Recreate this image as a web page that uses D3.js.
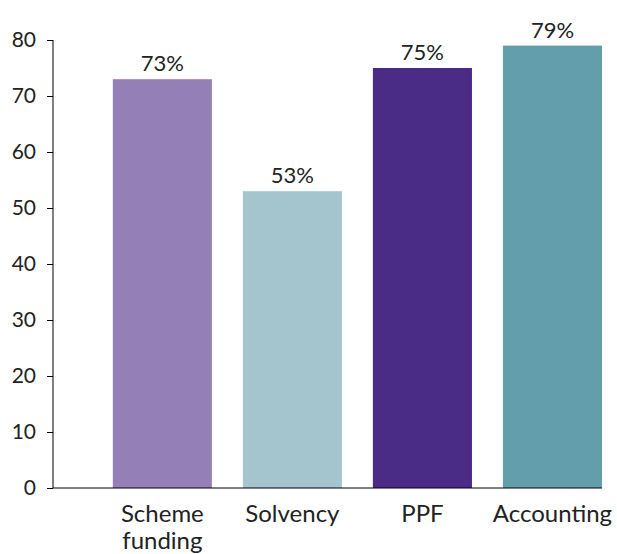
<!DOCTYPE html>
<html>
<head>
<meta charset="utf-8">
<script src="https://cdn.jsdelivr.net/npm/d3@7"></script>
<style>
  body { margin: 0; background: #fff; }
  text { font-family: Lato, "Noto Sans", sans-serif; fill: #222; }
</style>
</head>
<body>
<div id="chart"></div>
<script>
const categories = [['Scheme', 'funding'], ['Solvency'], ['PPF'], ['Accounting']]
const values = [73, 53, 75, 79]
const colors = ['#9480b6', '#a4c5cd', '#4a2c86', '#639eac']
const yTicks = [0, 10, 20, 30, 40, 50, 60, 70, 80]

const w = 617, h = 554
const padLeft = 53, padRight = 602, padTop = 40, padBottom = 488

const svg = d3.select('#chart').append('svg')
    .attr('width', w)
    .attr('height', h)

const x = d3.scaleBand()
    .domain(d3.range(values.length))
    .range([padLeft, padRight])
    .paddingInner(0.238)
    .paddingOuter(0.23)
    .align(1)

const y = d3.scaleLinear()
    .domain([0, 80])
    .range([padBottom, padTop])

svg.selectAll('rect')
    .data(values)
    .enter()
    .append('rect')
    .attr('x', (d, i) => x(i))
    .attr('y', d => y(d))
    .attr('width', x.bandwidth())
    .attr('height', d => y(0) - y(d))
    .attr('fill', (d, i) => colors[i])

svg.selectAll('.val')
    .data(values)
    .enter()
    .append('text')
    .attr('class', 'val')
    .attr('x', (d, i) => x(i) + x.bandwidth() / 2)
    .attr('y', d => y(d) - 8)
    .attr('text-anchor', 'middle')
    .style('font-size', '22px')
    .text(d => d + '%')

const yAxis = svg.append('g')
    .attr('transform', 'translate(' + padLeft + ',0)')
    .call(d3.axisLeft(y).tickValues(yTicks).tickSize(6).tickPadding(11))
yAxis.select('.domain').attr('stroke', '#000').attr('d', 'M0,' + padTop + 'V' + padBottom)
yAxis.selectAll('.tick line').attr('stroke', '#000')
yAxis.selectAll('text').style('font-size', '21px').attr('fill', '#222')

svg.append('line')
    .attr('x1', padLeft).attr('x2', padRight)
    .attr('y1', padBottom).attr('y2', padBottom)
    .attr('stroke', '#000')

const catText = svg.selectAll('.cat')
    .data(categories)
    .enter()
    .append('text')
    .attr('class', 'cat')
    .attr('x', (d, i) => x(i) + x.bandwidth() / 2)
    .attr('y', 522)
    .attr('text-anchor', 'middle')
    .style('font-size', '24px')

catText.selectAll('tspan')
    .data(d => d)
    .enter()
    .append('tspan')
    .attr('x', function () { return d3.select(this.parentNode).attr('x') })
    .attr('dy', (d, i) => i === 0 ? 0 : 27)
    .text(d => d)
</script>
</body>
</html>
